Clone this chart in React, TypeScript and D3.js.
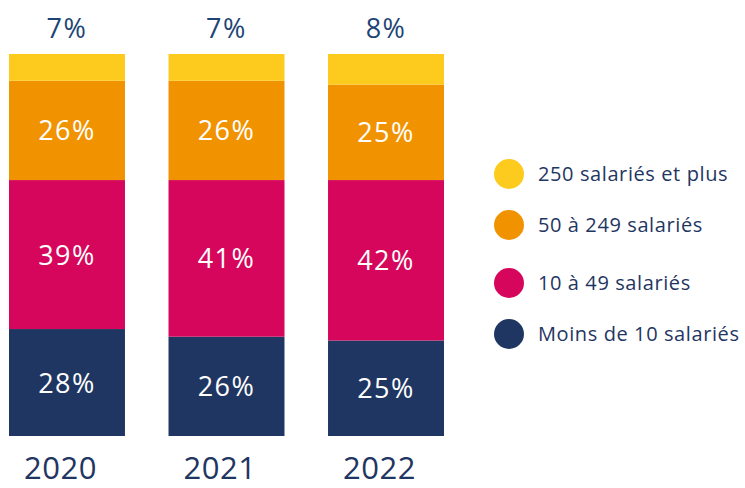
import { useEffect, useRef } from "react";
import * as d3 from "d3";

const years = ["2020", "2021", "2022"];
const seriesNames = [
  "Moins de 10 salariés",
  "10 à 49 salariés",
  "50 à 249 salariés",
  "250 salariés et plus",
];
const moins10 = [28, 26, 25];
const de10a49 = [39, 41, 42];
const de50a249 = [26, 26, 25];
const plus250 = [7, 7, 8];

const colors = ["#1f3662", "#d5065b", "#f19300", "#fccb1d"];

export default function App() {
  const svgRef = useRef<SVGSVGElement | null>(null);

  useEffect(() => {
    if (!svgRef.current) return;
    const width = 745;
    const height = 488;
    const font = "'Open Sans', sans-serif";

    const svg = d3.select(svgRef.current);
    svg.selectAll("*").remove();

    const rows = years.map((year, i) => ({
      year,
      s0: moins10[i],
      s1: de10a49[i],
      s2: de50a249[i],
      s3: plus250[i],
    }));
    const keys = ["s0", "s1", "s2", "s3"];
    const stacked = d3.stack<any>().keys(keys)(rows);

    const x = d3
      .scaleBand()
      .domain(years)
      .range([9, 444])
      .paddingInner(0.273)
      .paddingOuter(0);

    const y = d3.scaleLinear().domain([0, 100]).range([436, 54]);

    const layers = svg
      .append("g")
      .selectAll("g")
      .data(stacked)
      .join("g")
      .attr("fill", (_d, i) => colors[i]);

    layers
      .selectAll("rect")
      .data((d) => d)
      .join("rect")
      .attr("x", (d: any) => x(d.data.year)!)
      .attr("width", x.bandwidth())
      .attr("y", (d) => y(d[1]))
      .attr("height", (d) => y(d[0]) - y(d[1]));

    // value labels: inside for the first three series, above for the last
    stacked.forEach((layer, li) => {
      const g = svg.append("g");
      layer.forEach((d: any) => {
        const v = d[1] - d[0];
        const cx = x(d.data.year)! + x.bandwidth() / 2;
        const inside = li < 3;
        g.append("text")
          .attr("x", cx)
          .attr("y", inside ? (y(d[0]) + y(d[1])) / 2 + 10 : 38)
          .attr("text-anchor", "middle")
          .attr("font-family", font)
          .attr("font-size", 27)
          .attr("letter-spacing", 1.5)
          .attr("fill", inside ? "#ffffff" : "#1d4474")
          .text(`${v}%`);
      });
    });

    // year labels
    svg
      .append("g")
      .selectAll("text")
      .data(years)
      .join("text")
      .attr("x", (d) => x(d)! + 15)
      .attr("y", 479)
      .attr("text-anchor", "start")
      .attr("font-family", font)
      .attr("font-size", 31)
      .attr("letter-spacing", 0.5)
      .attr("fill", "#1f3662")
      .text((d) => d);

    // legend
    const legendY = [174, 225, 283, 334];
    const legendOrder = [3, 2, 1, 0];
    const legend = svg.append("g");
    legendOrder.forEach((si, i) => {
      const row = legend
        .append("g")
        .attr("transform", `translate(509, ${legendY[i]})`);
      row.append("circle").attr("r", 15).attr("fill", colors[si]);
      row
        .append("text")
        .attr("x", 29)
        .attr("y", 7)
        .attr("font-family", font)
        .attr("font-size", 20)
        .attr("letter-spacing", 0.6)
        .attr("fill", "#1f3662")
        .text(seriesNames[si]);
    });

    svg.attr("width", width).attr("height", height);
  }, []);

  return (
    <svg
      ref={svgRef}
      width={745}
      height={488}
      style={{ position: "fixed", left: 0, top: 0, background: "#ffffff" }}
    ></svg>
  );
}
